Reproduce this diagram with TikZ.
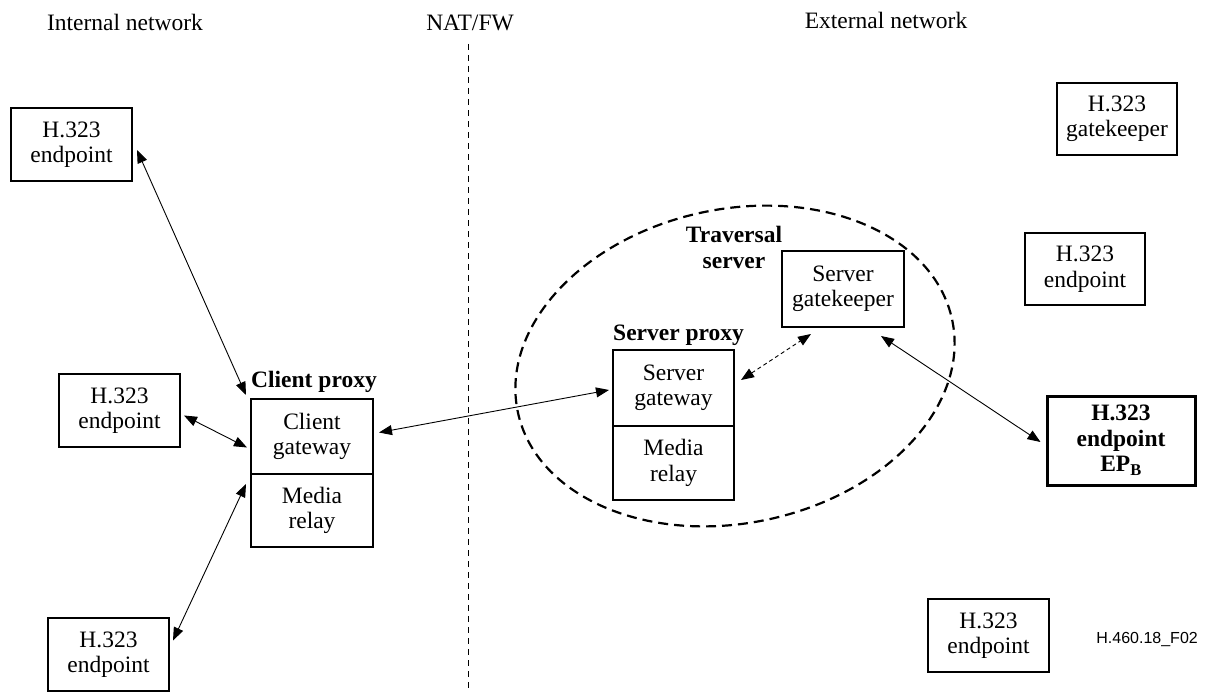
\documentclass[tikz,border=0pt]{standalone}
\usepackage{fontspec}
\setmainfont{Liberation Serif}
\newfontfamily\arialf{Liberation Sans}
\usetikzlibrary{arrows.meta,calc}
\begin{document}
\begin{tikzpicture}[x=1pt,y=-1pt,
  every node/.style={font=\fontsize{23.5}{25.5}\selectfont},
  box/.style={draw, line width=2pt, align=center, inner sep=0pt, minimum width=121pt, minimum height=73pt},
  boldbox/.style={box, line width=3pt, font=\fontsize{23.5}{25.5}\selectfont\bfseries, minimum width=148pt, minimum height=89pt},
  lbl/.style={inner sep=0pt, anchor=base},
  blbl/.style={inner sep=0pt, anchor=base west, font=\fontsize{23.5}{25.5}\selectfont\bfseries},
  arr/.style={{Triangle[length=13pt,width=10pt]}-{Triangle[length=13pt,width=10pt]}, line width=0.9pt},
  darr/.style={arr, dash pattern=on 4pt off 3pt},
  ell/.style={line width=2.2pt, dash pattern=on 10pt off 6pt},
  vline/.style={line width=0.8pt, dash pattern=on 6pt off 5pt}
]
\useasboundingbox (0,0) rectangle (1216,693);

% headers
\node[lbl] (hin) at (125,31) {Internal network};
\node[lbl] (hnat) at (470,31) {NAT/FW};
\node[lbl] (hex) at (886,29) {External network};
\coordinate (vtop) at (468,44);
\coordinate (vbot) at (468,693);
\draw[vline] (vtop) -- (vbot);

% internal endpoints
\node[box] (tl) at (71.5,144.5) {H.323\\endpoint};
\node[box] (ml) at (119.5,410.5) {H.323\\endpoint};
\node[box] (bl) at (108.5,654.5) {H.323\\endpoint};

% client proxy
\node[box, minimum width=122pt, minimum height=75pt] (cg) at (312,436.5) {Client\\gateway};
\node[box, minimum width=122pt, minimum height=73pt] (cm) at (312,510.5) {Media\\relay};
\node[blbl] (cpl) at (251,387) {Client proxy};

% traversal server ellipse
\draw[ell, rotate around={12:(735,366)}] (735,366) ellipse [x radius=222, y radius=157];
\node[lbl, font=\fontsize{23.5}{25.5}\selectfont\bfseries] (ts1) at (734,242) {Traversal};
\node[lbl, font=\fontsize{23.5}{25.5}\selectfont\bfseries] (ts2) at (734,268) {server};

% server proxy
\node[box, minimum width=121pt, minimum height=76pt] (sg) at (673.5,388) {Server\\gateway};
\node[box, minimum width=121pt, minimum height=74pt] (sm) at (673.5,463) {Media\\relay};
\node[blbl] (spl) at (613,340) {Server proxy};

% server gatekeeper
\node[box, minimum width=122pt, minimum height=76pt] (sgk) at (843,289) {Server\\gatekeeper};

% external
\node[box, minimum width=120pt, minimum height=72pt] (gk) at (1117,119) {H.323\\gatekeeper};
\node[box, minimum width=120pt, minimum height=72pt] (re) at (1085,269) {H.323\\endpoint};
\node[boldbox] (epb) at (1121,440.5) {H.323\\endpoint\\EP\textsubscript{B}};
\node[box, minimum width=121pt, minimum height=73pt] (br) at (988.5,635.5) {H.323\\endpoint};

\node[lbl, anchor=base east, font=\arialf\fontsize{16}{18}\selectfont] (fig) at (1198,643) {H.460.18\_F02};

% connectors
\draw[arr] ([shift={(4,5.5)}]tl.east) -- ([shift={(-4,-3)}]cg.north west);
\draw[arr] ([shift={(3,5)}]ml.east) -- ([shift={(-3,11)}]cg.west);
\draw[arr] ([shift={(3,-14)}]bl.east) -- ([shift={(-4,11)}]cm.north west);
\draw[arr] ([shift={(5,-4)}]cg.east) -- ([shift={(-3,2)}]sg.west);
\draw[darr] ([shift={(6,-8)}]sg.east) -- ([shift={(30,6)}]sgk.south west);
\draw[arr] ([shift={(-24,8)}]sgk.south east) -- ([shift={(-5,1.5)}]epb.west);
\end{tikzpicture}
\end{document}
